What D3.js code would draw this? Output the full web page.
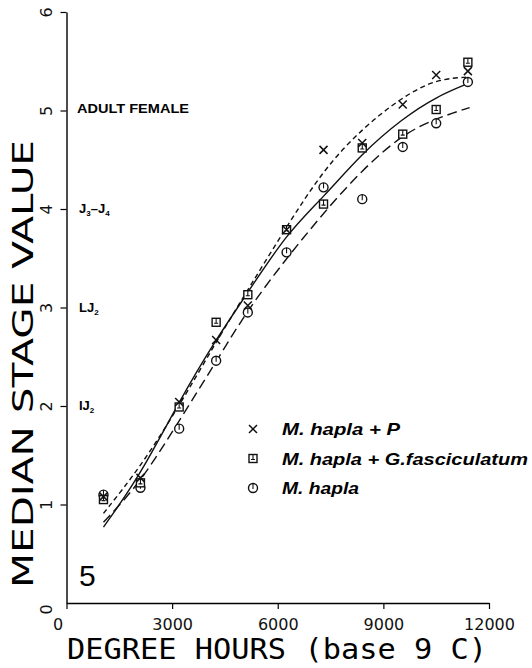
<!DOCTYPE html>
<html>
<head>
<meta charset="utf-8">
<script src="https://cdn.jsdelivr.net/npm/d3@7"></script>
<style>
  body { margin: 0; background: #fff; }
  svg { display: block; }
</style>
</head>
<body>
<script>
// degree hours where the stages were sampled
const hours = [1050, 2100, 3200, 4250, 5150, 6250, 7300, 8400, 9550, 10500, 11400];
// median stage values per treatment
const stageP = [1.08, 1.27, 2.04, 2.67, 3.02, 3.79, 4.60, 4.67, 5.06, 5.36, 5.40];
const stageG = [1.05, 1.22, 1.99, 2.85, 3.13, 3.79, 4.05, 4.62, 4.76, 5.01, 5.49];
const stageM = [1.10, 1.17, 1.77, 2.46, 2.95, 3.56, 4.22, 4.10, 4.63, 4.87, 5.29];
// fitted curves
const fitHours = [1050, 2100, 3200, 4250, 5150, 6250, 7300, 8400, 9550, 10500, 11450];
const fitP = [0.91, 1.38, 2.00, 2.65, 3.18, 3.82, 4.40, 4.82, 5.14, 5.32, 5.34];
const fitG = [0.77, 1.30, 2.05, 2.68, 3.15, 3.75, 4.12, 4.57, 4.92, 5.14, 5.28];
const fitM = [0.82, 1.22, 1.85, 2.45, 2.98, 3.50, 3.96, 4.40, 4.76, 4.92, 5.03];

const xTicks = [0, 3000, 6000, 9000, 12000];
const yTicks = [0, 1, 2, 3, 4, 5, 6];
const stageLabels = [
  {v: 5, t: "ADULT FEMALE"},
  {v: 4, t: "J", sub: ["3", "4"]},
  {v: 3, t: "LJ", sub: ["2"]},
  {v: 2, t: "IJ", sub: ["2"]}
];
const legendNames = ["M. hapla + P", "M. hapla + G.fasciculatum", "M. hapla"];
const legendWidths = [118, 246, 77];

const width = 532, height = 668;
const svg = d3.select("body").append("svg")
  .attr("width", width).attr("height", height);

const x = d3.scaleLinear().domain([0, 12000]).range([66.5, 489]);
const y = d3.scaleLinear().domain([0, 6]).range([603, 12]);

const font = "DejaVu Sans, sans-serif";

// x axis
const gx = svg.append("g")
  .attr("transform", `translate(0,${y(0)})`)
  .call(d3.axisBottom(x).tickValues(xTicks).tickSize(6).tickPadding(10).tickSizeOuter(0).tickFormat(d => d));
gx.select(".domain").attr("stroke-width", 1.4);
gx.selectAll(".tick line").attr("stroke-width", 1.2);
gx.selectAll("text").style("font-family", font).style("font-size", "16px").attr("fill", "#111");
gx.selectAll(".tick").filter(d => d === 0).select("text").attr("dx", -9);

// y axis
const gy = svg.append("g")
  .attr("transform", `translate(${x(0)},0)`)
  .call(d3.axisLeft(y).tickValues(yTicks).tickSize(6).tickSizeOuter(0).tickFormat(d => d));
gy.select(".domain").attr("stroke-width", 1.4);
gy.selectAll(".tick line").attr("stroke-width", 1.2);
gy.selectAll("text")
  .attr("x", null).attr("dy", null)
  .attr("text-anchor", "middle")
  .attr("transform", d => d === 0 ? "translate(-15,6) rotate(-90)" : "translate(-15,0) rotate(-90)")
  .style("font-family", font).style("font-size", "16px").attr("fill", "#111");
gy.selectAll(".tick").filter(d => d === 0).select("line").remove();

// axis titles
svg.append("text")
  .attr("transform", `translate(33,${(140 + 588) / 2}) rotate(-90)`)
  .attr("text-anchor", "middle")
  .attr("textLength", 448).attr("lengthAdjust", "spacingAndGlyphs")
  .style("font-family", font).style("font-size", "29px")
  .text("MEDIAN STAGE VALUE");

svg.append("text")
  .attr("x", 67).attr("y", 659)
  .attr("textLength", 420).attr("lengthAdjust", "spacingAndGlyphs")
  .style("font-family", "DejaVu Sans Mono, monospace").style("font-size", "28px")
  .text("DEGREE HOURS (base 9 C)");

// stage labels
stageLabels.forEach(s => {
  const t = svg.append("text")
    .attr("x", s.v === 5 ? 77 : 79).attr("y", y(s.v) + (s.v === 5 ? 2 : 4))
    .style("font-family", "Liberation Sans Narrow, Liberation Sans, sans-serif")
    .style("font-weight", "bold").style("font-size", "13px");
  if (!s.sub) {
    t.attr("textLength", 112).attr("lengthAdjust", "spacingAndGlyphs").text(s.t);
  } else if (s.sub.length === 2) {
    t.append("tspan").text("J");
    t.append("tspan").attr("dy", 3).style("font-size", "8px").text(s.sub[0]);
    t.append("tspan").attr("dy", -3).text("\u2013J");
    t.append("tspan").attr("dy", 3).style("font-size", "8px").text(s.sub[1]);
  } else {
    t.append("tspan").text(s.t);
    t.append("tspan").attr("dy", 3).style("font-size", "8px").text(s.sub[0]);
  }
});

// figure number
svg.append("text")
  .attr("x", 79).attr("y", 586)
  .style("font-family", "Liberation Sans, sans-serif").style("font-size", "30px")
  .text("5");

// fitted curves
const line = d3.line()
  .x((d, i) => x(fitHours[i]))
  .y(d => y(d))
  .curve(d3.curveBasis);

const curves = [
  {data: fitP, dash: "5,3.5"},
  {data: fitG, dash: null},
  {data: fitM, dash: "10,5"}
];
curves.forEach(c => {
  svg.append("path")
    .datum(c.data)
    .attr("d", line)
    .attr("fill", "none")
    .attr("stroke", "#111")
    .attr("stroke-width", 1.4)
    .attr("stroke-dasharray", c.dash);
});

// markers
function cross(g, cx, cy) {
  const s = 4;
  g.append("path")
    .attr("d", `M${cx - s},${cy - s}L${cx + s},${cy + s}M${cx - s},${cy + s}L${cx + s},${cy - s}`)
    .attr("stroke", "#111").attr("stroke-width", 1.5).attr("fill", "none");
}
function square(g, cx, cy) {
  const s = 4;
  g.append("rect")
    .attr("x", cx - s).attr("y", cy - s).attr("width", 2 * s).attr("height", 2 * s)
    .attr("fill", "#fff").attr("stroke", "#111").attr("stroke-width", 1.4);
  g.append("path")
    .attr("d", `M${cx},${cy - s}V${cy + 1}M${cx - 2},${cy + 1}H${cx + 2}`)
    .attr("stroke", "#111").attr("stroke-width", 1.1);
}
function circle(g, cx, cy) {
  const r = 4.5;
  g.append("circle")
    .attr("cx", cx).attr("cy", cy).attr("r", r)
    .attr("fill", "#fff").attr("stroke", "#111").attr("stroke-width", 1.4);
  g.append("path")
    .attr("d", `M${cx},${cy - r}V${cy + 1}`)
    .attr("stroke", "#111").attr("stroke-width", 1.1);
}

const marks = svg.append("g");
const series = [
  {data: stageM, draw: circle},
  {data: stageG, draw: square},
  {data: stageP, draw: cross}
];
series.forEach(s => {
  s.data.forEach((v, i) => s.draw(marks, x(hours[i]), y(v)));
});

// legend
const legend = svg.append("g");
const legendDraw = [cross, square, circle];
legendNames.forEach((name, i) => {
  const cy = 429 + i * 29.5;
  legendDraw[i](legend, 253, cy);
  legend.append("text")
    .attr("x", 282).attr("y", cy + 6)
    .attr("textLength", legendWidths[i]).attr("lengthAdjust", "spacingAndGlyphs")
    .style("font-family", "Liberation Sans, Arial, sans-serif")
    .style("font-weight", "bold").style("font-style", "italic")
    .style("font-size", "17px")
    .text(name);
});
</script>
</body>
</html>
